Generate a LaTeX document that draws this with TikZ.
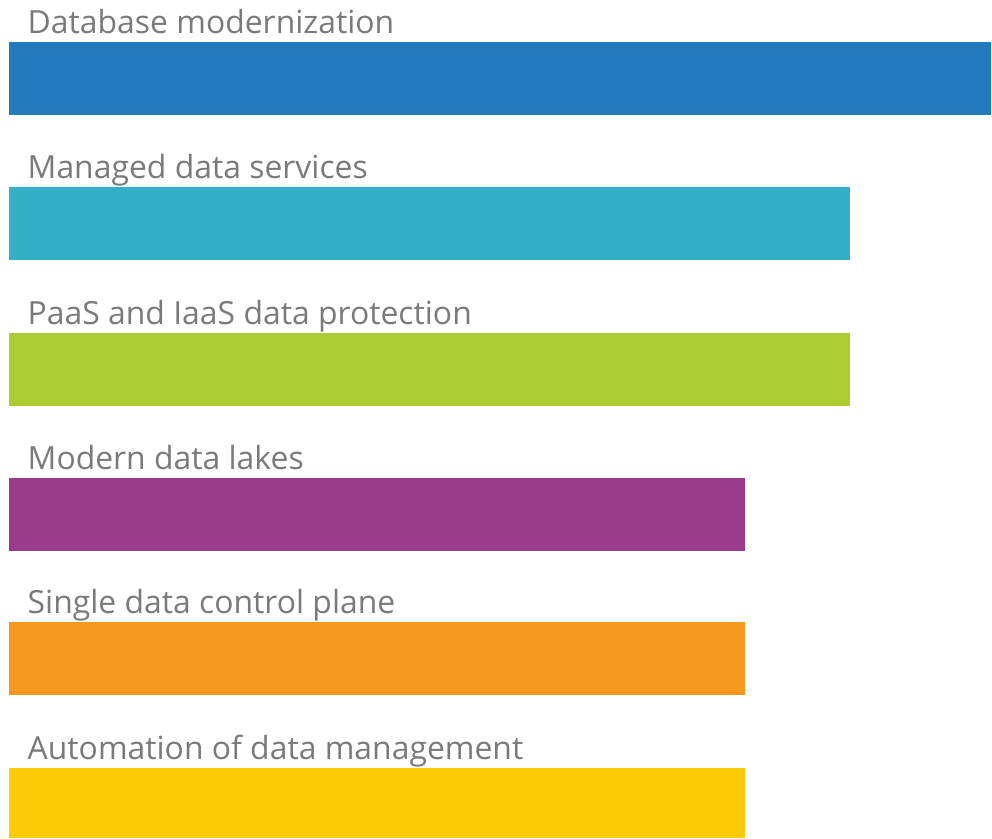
\documentclass[tikz,border=0pt]{standalone}
\usepackage{fontspec}
\setmainfont{Open Sans}
\definecolor{cblue}{HTML}{2279BB}
\definecolor{cteal}{HTML}{35AEC7}
\definecolor{cgreen}{HTML}{ADCB32}
\definecolor{cpurple}{HTML}{9B3B8B}
\definecolor{corange}{HTML}{F8991F}
\definecolor{cyellow}{HTML}{FDCB08}
\definecolor{txtgray}{HTML}{7A7A7A}
\begin{document}
\begin{tikzpicture}[x=1pt,y=-1pt,
  barlabel/.style={anchor=base west,inner sep=0pt,text=txtgray,font=\fontsize{31.9}{36}\selectfont}]
\useasboundingbox (0,0) rectangle (992,838);
\fill[cblue]   (9,42)  rectangle (991,114.5);
\fill[cteal]   (9,187) rectangle (850,259.5);
\fill[cgreen]  (9,333) rectangle (850,405.5);
\fill[cpurple] (9,478) rectangle (745,550.5);
\fill[corange] (9,622) rectangle (745,694.5);
\fill[cyellow] (9,768) rectangle (745,838);
\node[barlabel] (l1) at (27.5,33)  {Database modernization};
\node[barlabel] (l2) at (27.5,178) {Managed data services};
\node[barlabel] (l3) at (27.5,324) {PaaS and IaaS data protection};
\node[barlabel] (l4) at (27.5,469) {Modern data lakes};
\node[barlabel] (l5) at (27.5,613) {Single data control plane};
\node[barlabel] (l6) at (27.5,759) {Automation of data management};
\end{tikzpicture}
\end{document}
